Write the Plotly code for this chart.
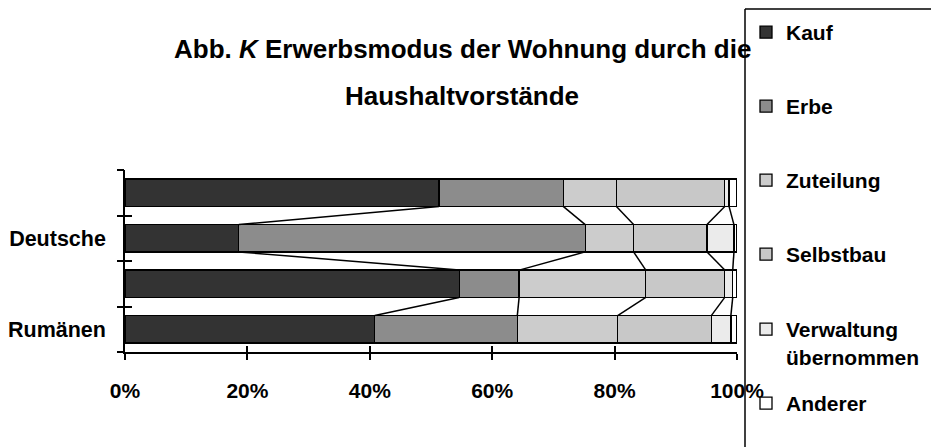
import plotly.graph_objects as go

# Anteile je Balken (oben -> unten), in Prozent
bar_ids = [0, 1, 2, 3]
kauf = [51.3, 18.6, 54.6, 40.8]
erbe = [20.3, 56.6, 9.8, 23.3]
zuteilung = [8.7, 7.9, 20.7, 16.4]
selbstbau = [17.7, 12.0, 12.9, 15.3]
verwaltung = [0.7, 4.4, 1.3, 3.2]
anderer = [1.3, 0.5, 0.7, 1.0]

series_names = ["Kauf", "Erbe", "Zuteilung", "Selbstbau",
                "Verwaltung<br>übernommen", "Anderer"]
series_colors = ["#333333", "#8c8c8c", "#cccccc", "#c8c8c8", "#ebebeb", "#ffffff"]
label_pos = [1, 3]
label_text = ["Deutsche", "Rumänen"]
x_ticks = [0, 20, 40, 60, 80, 100]
x_ticktext = ["0%", "20%", "40%", "60%", "80%", "100%"]

FONT = "Liberation Sans, Arial, sans-serif"
# Seite hat 8px Body-Rand -> Figur etwas kleiner, Ränder verschoben
W, H = 931, 439
L, T = 117, 162
PW, PH = 612, 182
R, B = W - L - PW, H - T - PH
BAR_W = 0.6
OFF = 8  # Body-Rand in Pixeln

all_series = [kauf, erbe, zuteilung, selbstbau, verwaltung, anderer]
legend_tops = [4, 78, 152, 226, 301, 375]  # Oberkante der Legendeneinträge

fig = go.Figure()

for k, (name, vals, col) in enumerate(zip(series_names, all_series, series_colors)):
    fig.add_trace(
        go.Bar(
            x=vals,
            y=bar_ids,
            orientation="h",
            name=name,
            width=BAR_W,
            marker=dict(color=col, line=dict(color="black", width=1.3)),
            legend="legend" if k == 0 else f"legend{k + 1}",
        )
    )

# Verbindungslinien zwischen den Balken (Excel-Serienlinien)
line_x, line_y = [], []
cum = [0.0] * len(bar_ids)
for vals in all_series[:-1]:
    cum = [c + v for c, v in zip(cum, vals)]
    for i in range(len(bar_ids) - 1):
        line_x += [cum[i], cum[i + 1], None]
        line_y += [bar_ids[i] + BAR_W / 2, bar_ids[i + 1] - BAR_W / 2, None]

fig.add_trace(
    go.Scatter(
        x=line_x, y=line_y, mode="lines",
        line=dict(color="black", width=1.5),
        showlegend=False, hoverinfo="skip",
    )
)

bounds = [b - 0.5 for b in bar_ids] + [bar_ids[-1] + 0.5]
yrange = [bar_ids[-1] + 0.5, bar_ids[0] - 0.5]

xtickfont = dict(family=FONT, size=21, color="black", weight=700)
ytickfont = dict(family=FONT, size=21.5, color="black", weight=700)
legfont = dict(family=FONT, size=21, color="black", weight=700)

legends = {}
for k, top in enumerate(legend_tops):
    key = "legend" if k == 0 else f"legend{k + 1}"
    legends[key] = dict(
        xref="container", yref="container",
        x=738 / W, y=1 - top / H, xanchor="left", yanchor="top",
        font=legfont, valign="top", bgcolor="rgba(0,0,0,0)",
    )

fig.update_layout(
    width=W,
    height=H,
    margin=dict(l=L, r=R, t=T, b=B, autoexpand=False),
    paper_bgcolor="white",
    plot_bgcolor="white",
    barmode="stack",
    xaxis=dict(
        range=[0, 100], tickvals=x_ticks, ticktext=x_ticktext,
        ticks="outside", ticklen=6, tickwidth=1.5, tickcolor="black",
        showline=True, linecolor="black", linewidth=1.5,
        showgrid=False, zeroline=False, tickfont=xtickfont,
        ticklabelstandoff=13, automargin=False,
    ),
    xaxis2=dict(
        range=[0, 100], overlaying="x", anchor="y", side="bottom",
        tickvals=x_ticks, ticks="inside", ticklen=6, tickwidth=1.5,
        tickcolor="black", showticklabels=False, showgrid=False,
        zeroline=False, showline=False, automargin=False,
    ),
    yaxis=dict(
        range=yrange, tickvals=label_pos, ticktext=label_text,
        ticks="", showline=True, linecolor="black", linewidth=1.5,
        showgrid=False, zeroline=False, tickfont=ytickfont,
        ticklabelstandoff=13, automargin=False,
    ),
    yaxis2=dict(
        range=yrange, overlaying="y", anchor="x", side="left",
        tickvals=bounds, ticks="outside", ticklen=7, tickwidth=1.5,
        tickcolor="black", showticklabels=False, showgrid=False,
        zeroline=False, showline=False, automargin=False,
    ),
    yaxis3=dict(
        range=yrange, overlaying="y", anchor="x", side="left",
        tickvals=bounds, ticks="inside", ticklen=7, tickwidth=1.5,
        tickcolor="black", showticklabels=False, showgrid=False,
        zeroline=False, showline=False, automargin=False,
    ),
    showlegend=True,
    **legends,
)

# Legendenrahmen (nur linke und obere Kante sichtbar), innerhalb der Figur
fx0 = (745 - OFF - L) / PW
fx1 = (W - 1 - L) / PW
fy0 = -B / PH
fy1 = (T + PH - 1) / PH
frame = dict(color="black", width=1.5)
fig.add_shape(type="line", xref="paper", yref="paper",
              x0=fx0, x1=fx0, y0=fy0, y1=fy1, line=frame, layer="above")
fig.add_shape(type="line", xref="paper", yref="paper",
              x0=fx0, x1=fx1, y0=fy1, y1=fy1, line=frame, layer="above")

title_font = dict(family=FONT, size=26, color="black", weight=700)
tx = (462 - OFF - L) / PW
fig.add_annotation(
    text="Abb. <i>K</i> Erwerbsmodus der Wohnung durch die",
    xref="paper", yref="paper",
    x=tx, y=(T + PH - (49 - OFF)) / PH,
    xanchor="center", yanchor="middle", showarrow=False, font=title_font,
)
fig.add_annotation(
    text="Haushaltvorstände",
    xref="paper", yref="paper",
    x=tx, y=(T + PH - (96 - OFF)) / PH,
    xanchor="center", yanchor="middle", showarrow=False, font=title_font,
)

# Hilfsspuren, damit die Überlagerungsachsen gezeichnet werden
fig.add_trace(go.Scatter(x=[None], y=[None], xaxis="x2", yaxis="y2",
                         showlegend=False, hoverinfo="skip"))
fig.add_trace(go.Scatter(x=[None], y=[None], xaxis="x", yaxis="y3",
                         showlegend=False, hoverinfo="skip"))

fig.write_html("out.html")
